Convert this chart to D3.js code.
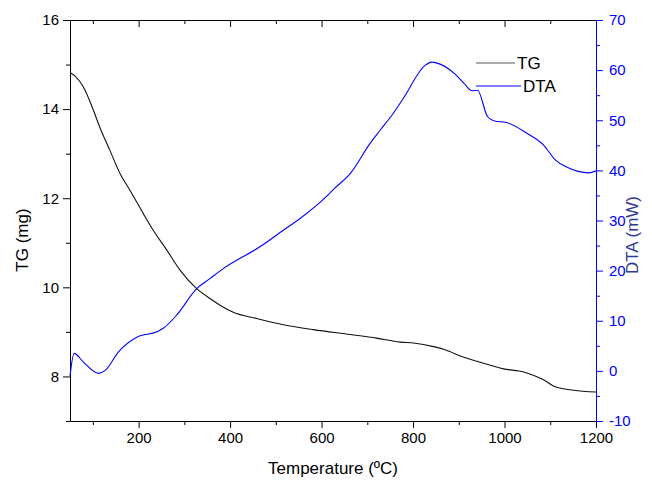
<!DOCTYPE html>
<html>
<head>
<meta charset="utf-8">
<script src="https://cdn.jsdelivr.net/npm/d3@7"></script>
<style>
  body { margin: 0; background: #fff; }
  svg { display: block; font-family: "Liberation Sans", Arial, sans-serif; }
</style>
</head>
<body>
<svg id="chart" width="652" height="480"></svg>
<script>
// TG curve (temperature in ºC, mass in mg)
const tgTemp = [50, 60, 79, 101, 116, 137, 159, 181, 210, 232, 262, 291, 327, 356, 378, 407, 458, 517, 582, 663, 720, 772, 801, 845, 870, 911, 940, 998, 1042, 1064, 1086, 1108, 1151, 1200];
const tgMass = [14.82, 14.75, 14.50, 13.98, 13.57, 13.08, 12.56, 12.18, 11.66, 11.28, 10.83, 10.38, 9.97, 9.75, 9.60, 9.44, 9.30, 9.16, 9.05, 8.94, 8.86, 8.77, 8.75, 8.67, 8.60, 8.43, 8.34, 8.17, 8.10, 8.02, 7.92, 7.78, 7.69, 7.65];

// DTA curve (temperature in ºC, power in mW)
const dtaTemp = [50, 59, 79, 112, 127, 156, 196, 240, 254, 283, 327, 356, 385, 466, 517, 553, 612, 626, 663, 706, 728, 757, 779, 827, 841, 849, 892, 911, 929, 941, 963, 980, 1002, 1049, 1086, 1111, 1137, 1184, 1200];
const dtaPower = [-1.0, 3.5, 1.8, -0.5, 0.1, 3.8, 6.7, 7.8, 8.5, 11.1, 16.4, 18.4, 20.4, 24.8, 28.1, 30.4, 34.9, 36.2, 39.4, 45.4, 48.0, 51.4, 54.4, 61.0, 61.6, 61.5, 59.2, 57.4, 55.9, 56.0, 50.7, 49.8, 49.6, 47.4, 45.0, 42.1, 40.6, 39.5, 39.9];

const xTicks = [200, 400, 600, 800, 1000, 1200];
const xMinor = [100, 300, 500, 700, 900, 1100];
const tgTicks = [8, 10, 12, 14, 16];
const tgMinor = [7, 9, 11, 13, 15];
const dtaTicks = [-10, 0, 10, 20, 30, 40, 50, 60, 70];
const dtaMinor = [-5, 5, 15, 25, 35, 45, 55, 65];

const seriesNames = ['TG', 'DTA'];

const blue = '#0000ff';
const L = 70, R = 596, T = 20, B = 421;

const svg = d3.select('#chart');

const x = d3.scaleLinear().domain([50, 1200]).range([L, R]);
const yTG = d3.scaleLinear().domain([7, 16]).range([B, T]);
const yDTA = d3.scaleLinear().domain([-10, 70]).range([B, T]);
const fmt = d => String(d); // plain hyphen for negatives, no thousands comma

function styleAxis(g, color) {
  g.select('.domain').attr('stroke', color);
  g.selectAll('.tick line').attr('stroke', color);
  g.selectAll('.tick text').attr('fill', color).style('font-size', '15px')
    .style('font-family', '"Liberation Sans", Arial, sans-serif');
}

// bottom axis
const bottom = svg.append('g').attr('transform', `translate(0,${B})`)
  .call(d3.axisBottom(x).tickValues(xTicks).tickFormat(fmt).tickSize(7).tickPadding(4).tickSizeOuter(0));
styleAxis(bottom, '#000');
svg.append('g').attr('transform', `translate(0,${B})`)
  .call(d3.axisBottom(x).tickValues(xMinor).tickSize(4).tickFormat('').tickSizeOuter(0))
  .call(g => g.select('.domain').remove());

// top axis (ticks pointing inward)
svg.append('g').attr('transform', `translate(0,${T})`)
  .call(d3.axisBottom(x).tickValues(xTicks).tickSize(7).tickFormat('').tickSizeOuter(0));
svg.append('g').attr('transform', `translate(0,${T})`)
  .call(d3.axisBottom(x).tickValues(xMinor).tickSize(4).tickFormat('').tickSizeOuter(0))
  .call(g => g.select('.domain').remove());

// left axis
const left = svg.append('g').attr('transform', `translate(${L},0)`)
  .call(d3.axisLeft(yTG).tickValues(tgTicks).tickFormat(fmt).tickSize(7).tickPadding(4).tickSizeOuter(0));
styleAxis(left, '#000');
svg.append('g').attr('transform', `translate(${L},0)`)
  .call(d3.axisLeft(yTG).tickValues(tgMinor).tickSize(4).tickFormat('').tickSizeOuter(0))
  .call(g => g.select('.domain').remove());

// right axis
const right = svg.append('g').attr('transform', `translate(${R},0)`)
  .call(d3.axisRight(yDTA).tickValues(dtaTicks).tickFormat(fmt).tickSize(7).tickPadding(6).tickSizeOuter(0));
styleAxis(right, blue);
svg.append('g').attr('transform', `translate(${R},0)`)
  .call(d3.axisRight(yDTA).tickValues(dtaMinor).tickSize(4).tickFormat('').tickSizeOuter(0))
  .call(g => g.select('.domain').remove())
  .call(g => g.selectAll('.tick line').attr('stroke', blue));

// curves
const tgLine = d3.line().x(d => x(d[0])).y(d => yTG(d[1])).curve(d3.curveMonotoneX);
const dtaLine = d3.line().x(d => x(d[0])).y(d => yDTA(d[1])).curve(d3.curveMonotoneX);

svg.append('path')
  .datum(d3.zip(dtaTemp, dtaPower))
  .attr('d', dtaLine)
  .attr('fill', 'none')
  .attr('stroke', blue)
  .attr('stroke-width', 1.1);

svg.append('path')
  .datum(d3.zip(tgTemp, tgMass))
  .attr('d', tgLine)
  .attr('fill', 'none')
  .attr('stroke', '#111')
  .attr('stroke-width', 1.1);

// axis titles
svg.append('text')
  .attr('x', (L + R) / 2).attr('y', 474)
  .attr('text-anchor', 'middle')
  .style('font-size', '17px')
  .text('Temperature (ºC)');

svg.append('text')
  .attr('transform', 'translate(28,240) rotate(-90)')
  .attr('text-anchor', 'middle')
  .style('font-size', '17px')
  .text('TG (mg)');

svg.append('text')
  .attr('transform', 'translate(638,235) rotate(-90)')
  .attr('text-anchor', 'middle')
  .style('font-size', '17px')
  .attr('fill', '#2e3a96')
  .text('DTA (mW)');

// legend
const legend = svg.append('g');
const legendY = [63, 86];
const legendTextX = [517, 523];
const legendColors = ['#555', blue];
seriesNames.forEach((name, i) => {
  legend.append('line')
    .attr('x1', 476).attr('x2', legendTextX[i] - 2)
    .attr('y1', legendY[i]).attr('y2', legendY[i])
    .attr('stroke', legendColors[i]).attr('stroke-width', 1.2);
  legend.append('text')
    .attr('x', legendTextX[i]).attr('y', legendY[i] + 6)
    .style('font-size', '17px')
    .text(name);
});
</script>
</body>
</html>
